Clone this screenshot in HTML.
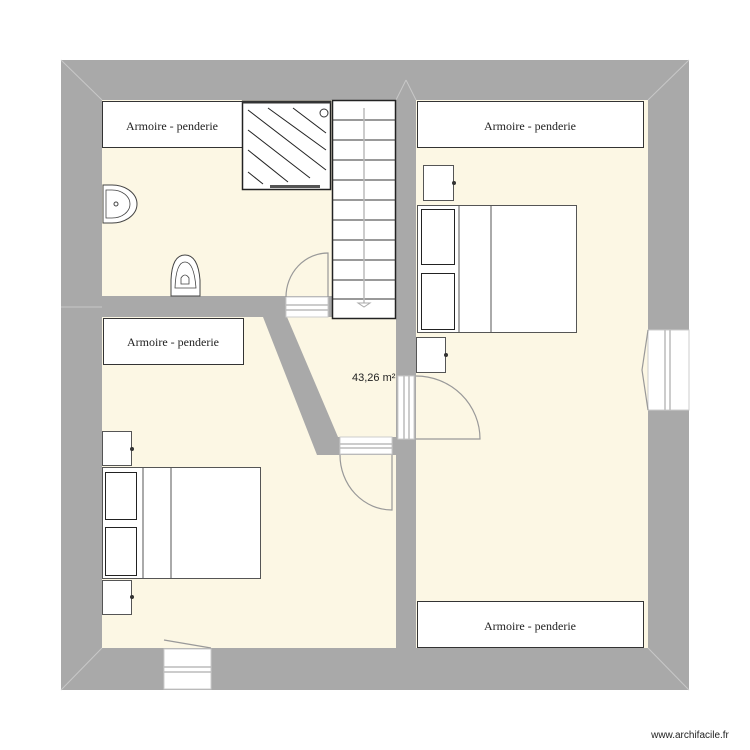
<!DOCTYPE html>
<html><head><meta charset="utf-8"><style>html,body{margin:0;padding:0;background:#fff}svg{display:block}</style></head>
<body>
<svg width="750" height="750" viewBox="0 0 750 750" xmlns="http://www.w3.org/2000/svg" font-family="Liberation Serif, serif">
<!-- outer walls -->
<rect x="61" y="60" width="628" height="630" fill="#a9a9a9"/>
<!-- floors -->
<rect x="102" y="100" width="294" height="548" fill="#fcf7e4"/>
<rect x="416" y="100" width="232" height="548" fill="#fcf7e4"/>
<!-- corner lines -->
<g stroke="#c8c8c8" stroke-width="1">
<line x1="61" y1="60" x2="102" y2="100"/><line x1="689" y1="60" x2="648" y2="100"/>
<line x1="61" y1="690" x2="102" y2="648"/><line x1="689" y1="690" x2="648" y2="648"/>
<line x1="396" y1="100" x2="406" y2="80"/><line x1="416" y1="100" x2="406" y2="80"/>
<line x1="61" y1="307" x2="102" y2="307"/>
</g>
<!-- center wall -->
<rect x="396" y="100" width="20" height="548" fill="#a9a9a9"/>
<!-- horizontal wall -->
<rect x="102" y="296" width="230" height="21" fill="#a9a9a9"/>
<!-- diagonal wall -->
<polygon points="263,317 287,317 338,437 396,437 396,455 317,455" fill="#a9a9a9"/>
<!-- doors openings -->
<g fill="#fff" stroke="#ccc" stroke-width="1">
<rect x="286" y="297" width="42" height="20"/>
<rect x="340" y="437" width="52" height="17"/>
<rect x="398" y="376" width="16" height="63"/>
<rect x="648" y="330" width="41" height="80"/>
<rect x="164" y="649" width="47" height="40"/>
</g>
<g stroke="#bbb" stroke-width="1.5">
<line x1="286" y1="305" x2="328" y2="305"/><line x1="286" y1="310" x2="328" y2="310"/>
<line x1="340" y1="444" x2="392" y2="444"/><line x1="340" y1="448" x2="392" y2="448"/>
<line x1="404" y1="376" x2="404" y2="439"/><line x1="409" y1="376" x2="409" y2="439"/>
<line x1="665" y1="330" x2="665" y2="410"/><line x1="670" y1="330" x2="670" y2="410"/>
<line x1="164" y1="667" x2="211" y2="667"/><line x1="164" y1="672" x2="211" y2="672"/>
</g>
<!-- door swings -->
<g fill="none" stroke="#999" stroke-width="1.2">
<path d="M328,297 L328,253 A42,44 0 0 0 286,297"/>
<path d="M392,455 L392,510 A52,55 0 0 1 340,455"/>
<path d="M416,439 L480,439 A64,63 0 0 0 416,376"/>
<line x1="164" y1="640" x2="211" y2="648"/>
<path d="M648,330 L642,370 L648,410"/>
</g>
<!-- armoires -->
<g fill="#fff" stroke="#333" stroke-width="1">
<rect x="102.5" y="101.5" width="140" height="46"/>
<rect x="417.5" y="101.5" width="226" height="46"/>
<rect x="103.5" y="318.5" width="140" height="46"/>
<rect x="417.5" y="601.5" width="226" height="46"/>
</g>
<g font-size="12" fill="#222" text-anchor="middle">
<text x="172" y="130">Armoire - penderie</text>
<text x="530" y="130">Armoire - penderie</text>
<text x="173" y="346">Armoire - penderie</text>
<text x="530" y="630">Armoire - penderie</text>
</g>
<!-- shower -->
<rect x="242.5" y="101.5" width="88" height="88" fill="#fff" stroke="#222" stroke-width="1.5"/>
<line x1="242" y1="102" x2="331" y2="102" stroke="#333" stroke-width="3"/>
<g stroke="#222" stroke-width="1">
<line x1="268" y1="108" x2="326" y2="150"/><line x1="293" y1="108" x2="326" y2="133"/>
<line x1="248" y1="110" x2="326" y2="170"/><line x1="248" y1="130" x2="310" y2="178"/>
<line x1="248" y1="150" x2="288" y2="182"/><line x1="248" y1="172" x2="263" y2="184"/>
</g>
<circle cx="324" cy="113" r="4" fill="#fff" stroke="#333"/>
<rect x="270" y="185" width="50" height="3" fill="#555"/>
<!-- stairs -->
<rect x="332.5" y="100.5" width="63" height="218" fill="#fff" stroke="#222" stroke-width="1.5"/>
<g stroke="#333" stroke-width="1">
<line x1="332" y1="120" x2="396" y2="120"/><line x1="332" y1="140" x2="396" y2="140"/>
<line x1="332" y1="160" x2="396" y2="160"/><line x1="332" y1="180" x2="396" y2="180"/>
<line x1="332" y1="200" x2="396" y2="200"/><line x1="332" y1="220" x2="396" y2="220"/>
<line x1="332" y1="240" x2="396" y2="240"/><line x1="332" y1="260" x2="396" y2="260"/>
<line x1="332" y1="280" x2="396" y2="280"/><line x1="332" y1="299" x2="396" y2="299"/>
</g>
<line x1="364" y1="108" x2="364" y2="303" stroke="#bbb" stroke-width="1.5"/>
<polygon points="358,303 370,303 364,307" fill="#fff" stroke="#aaa"/>
<!-- sink -->
<path d="M103,185 L112,185 A25,19 0 0 1 112,223 L103,223 Z" fill="#fff" stroke="#444"/>
<path d="M106,190 L112,190 A18,14 0 0 1 112,218 L106,218 Z" fill="none" stroke="#444" stroke-width="0.8"/>
<circle cx="116" cy="204" r="2" fill="none" stroke="#444"/>
<!-- toilet -->
<path d="M171,296 L171,280 Q172,255 185,255 Q198,255 200,280 L200,296 Z" fill="#fff" stroke="#444"/>
<path d="M175,288 Q176,262 185,262 Q194,262 196,288 Z" fill="none" stroke="#444" stroke-width="0.8"/>
<path d="M181,284 L181,278 Q185,272 189,278 L189,284 Z" fill="none" stroke="#444" stroke-width="0.8"/>
<!-- right bedroom -->
<g fill="#fff" stroke="#555" stroke-width="1">
<rect x="423.5" y="165.5" width="30" height="35"/>
<rect x="417.5" y="205.5" width="159" height="127"/>
<rect x="421.5" y="209.5" width="33" height="55" stroke="#222"/>
<rect x="421.5" y="273.5" width="33" height="56" stroke="#222"/>
<line x1="459" y1="205" x2="459" y2="332"/><line x1="491" y1="205" x2="491" y2="332"/>
<rect x="416.5" y="337.5" width="29" height="35"/>
<rect x="102.5" y="431.5" width="29" height="34"/>
<rect x="102.5" y="467.5" width="158" height="111"/>
<rect x="105.5" y="472.5" width="31" height="47" stroke="#222"/>
<rect x="105.5" y="527.5" width="31" height="48" stroke="#222"/>
<line x1="143" y1="467" x2="143" y2="578"/><line x1="171" y1="467" x2="171" y2="578"/>
<rect x="102.5" y="580.5" width="29" height="34"/>
</g>
<g fill="#333">
<circle cx="454" cy="183" r="2"/><circle cx="446" cy="355" r="2"/>
<circle cx="132" cy="449" r="2"/><circle cx="132" cy="597" r="2"/>
</g>
<text x="352" y="381" font-family="Liberation Sans, sans-serif" font-size="11" fill="#222">43,26 m²</text>
<text x="690" y="738" font-family="Liberation Sans, sans-serif" font-size="10" fill="#222" text-anchor="middle">www.archifacile.fr</text>
</svg>
</body></html>
